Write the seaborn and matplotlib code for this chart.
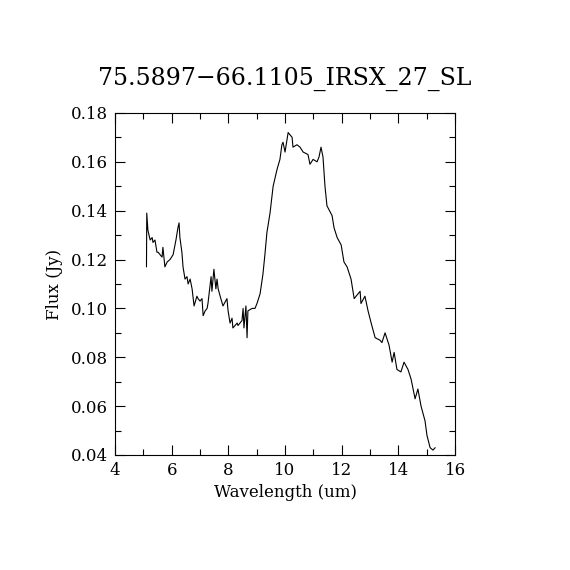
import numpy as np
import pandas as pd
import matplotlib
matplotlib.use("Agg")
import matplotlib.pyplot as plt
from matplotlib.ticker import MultipleLocator, FormatStrFormatter
import seaborn as sns

sns.set_theme(style="ticks")
plt.rcParams['font.family'] = ['DejaVu Serif']
plt.rcParams['text.color'] = 'black'
plt.rcParams['axes.labelcolor'] = 'black'

title = "75.5897\u221266.1105_IRSX_27_SL"

wavelength = [5.11, 5.12, 5.16, 5.24, 5.31, 5.34, 5.41, 5.48, 5.52, 5.59,
              5.66, 5.69, 5.76, 5.84, 5.94, 6.05, 6.15, 6.22, 6.26, 6.29,
              6.36, 6.40, 6.47, 6.54, 6.58, 6.65, 6.72, 6.79, 6.89, 6.93,
              7.00, 7.07, 7.11, 7.18, 7.25, 7.28, 7.35, 7.39, 7.42, 7.49,
              7.56, 7.60, 7.64, 7.71, 7.81, 7.95, 7.99, 8.06, 8.13, 8.16,
              8.31, 8.34, 8.41, 8.48, 8.52, 8.55, 8.62, 8.66, 8.69, 8.84,
              8.94, 9.01, 9.12, 9.22, 9.29, 9.36, 9.47, 9.58, 9.72, 9.82,
              9.89, 9.93, 10.00, 10.11, 10.25, 10.28, 10.42, 10.53, 10.64, 10.81,
              10.88, 10.99, 11.13, 11.20, 11.27, 11.34, 11.41, 11.48, 11.66, 11.73,
              11.84, 11.98, 12.08, 12.19, 12.33, 12.44, 12.65, 12.68, 12.82, 12.93,
              13.04, 13.18, 13.35, 13.42, 13.53, 13.67, 13.78, 13.85, 13.95, 14.09,
              14.20, 14.34, 14.45, 14.59, 14.69, 14.80, 14.94, 15.01, 15.12, 15.22,
              15.30]
flux = [0.117, 0.139, 0.132, 0.128, 0.129, 0.127, 0.128, 0.123, 0.123, 0.122,
        0.121, 0.125, 0.117, 0.119, 0.120, 0.122, 0.128, 0.133, 0.135, 0.129,
        0.123, 0.117, 0.112, 0.113, 0.110, 0.112, 0.108, 0.101, 0.105, 0.104,
        0.103, 0.104, 0.097, 0.099, 0.100, 0.102, 0.109, 0.113, 0.107, 0.116,
        0.108, 0.112, 0.108, 0.105, 0.101, 0.104, 0.099, 0.094, 0.096, 0.092,
        0.094, 0.093, 0.094, 0.095, 0.100, 0.092, 0.101, 0.088, 0.099, 0.100,
        0.100, 0.102, 0.106, 0.114, 0.122, 0.131, 0.139, 0.150, 0.157, 0.161,
        0.167, 0.168, 0.164, 0.172, 0.170, 0.166, 0.167, 0.166, 0.164, 0.163,
        0.159, 0.161, 0.160, 0.162, 0.166, 0.162, 0.150, 0.142, 0.138, 0.133,
        0.129, 0.126, 0.119, 0.117, 0.112, 0.104, 0.107, 0.102, 0.105, 0.099,
        0.094, 0.088, 0.087, 0.086, 0.090, 0.085, 0.078, 0.082, 0.075, 0.074,
        0.078, 0.075, 0.071, 0.063, 0.067, 0.060, 0.054, 0.048, 0.043, 0.042,
        0.043]

df = pd.DataFrame({"wavelength": wavelength, "flux": flux})

fig = plt.figure(figsize=(5.7, 5.7), dpi=100)
ax = fig.add_axes([0.2018, 0.2018, 0.5965, 0.6])
sns.lineplot(data=df, x="wavelength", y="flux", color="black", linewidth=0.8,
             sort=False, estimator=None, ax=ax)

ax.set_xlim(4, 16)
ax.set_ylim(0.04, 0.18)
ax.xaxis.set_major_locator(MultipleLocator(2))
ax.xaxis.set_minor_locator(MultipleLocator(1))
ax.yaxis.set_major_locator(MultipleLocator(0.02))
ax.yaxis.set_minor_locator(MultipleLocator(0.01))
ax.yaxis.set_major_formatter(FormatStrFormatter("%.2f"))
ax.tick_params(which="both", direction="in", top=True, right=True,
               colors="black", labelsize=12, width=0.8)
ax.tick_params(which="major", length=7, pad=5)
ax.tick_params(which="minor", length=4)
for s in ax.spines.values():
    s.set_color("black")
    s.set_linewidth(0.8)

ax.set_xlabel("Wavelength (um)", fontsize=12, labelpad=4)
ax.set_ylabel("Flux (Jy)", fontsize=12, labelpad=6)
ax.set_title(title, fontsize=17, pad=20, color="black")

fig.savefig("out.png", dpi=100, facecolor="white")
